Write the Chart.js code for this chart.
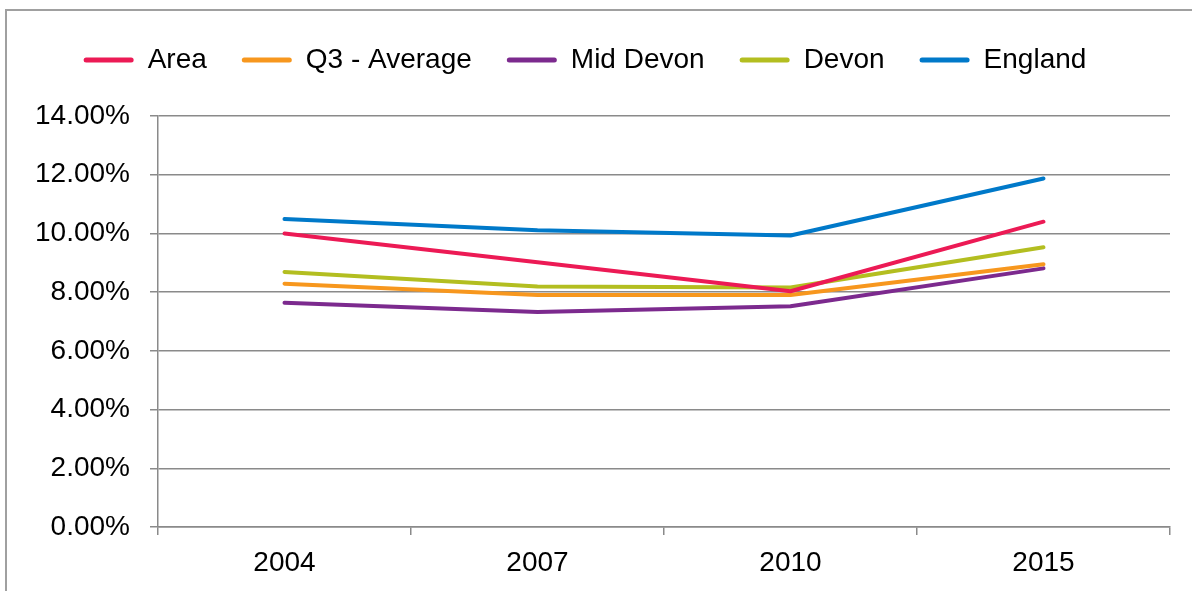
<!DOCTYPE html>
<html>
<head>
<meta charset="utf-8">
<script src="https://cdn.jsdelivr.net/npm/chart.js@4.4.1/dist/chart.umd.min.js"></script>
<style>
  html, body { margin: 0; padding: 0; background: #fff; overflow: hidden; }
  #wrap { position: absolute; left: 0; top: 0; width: 1192px; height: 591px; }
  #frame { position: absolute; left: 5px; top: 9px; width: 1300px; height: 700px; border: 2px solid #a0a0a0; box-sizing: border-box; }
  canvas { position: absolute; left: 0; top: 0; }
</style>
</head>
<body>
<div id="wrap">
  <div id="frame"></div>
  <canvas id="c" width="1192" height="591"></canvas>
</div>
<script>
const categories = ['2004', '2007', '2010', '2015'];
const seriesNames = ['Area', 'Q3 - Average', 'Mid Devon', 'Devon', 'England'];
const area      = [10.00, 9.02, 8.03, 10.40];
const q3Average = [8.29, 7.90, 7.90, 8.95];
const midDevon  = [7.64, 7.32, 7.52, 8.81];
const devon     = [8.69, 8.19, 8.16, 9.53];
const england   = [10.49, 10.11, 9.93, 11.87];
const yTicks = [0, 2, 4, 6, 8, 10, 12, 14];
const colors = ['#EC1A55', '#F7971E', '#7C2A8E', '#B3BE20', '#0079C9'];

const seriesValues = [area, q3Average, midDevon, devon, england];
const FONT = "'Liberation Sans', Arial, sans-serif";
const FS = 28;

const legendHeightPlugin = {
  id: 'legendHeight',
  beforeLayout(chart) {
    const lg = chart.legend;
    if (lg && !lg._patched) {
      const orig = lg.fit;
      lg.fit = function () { orig.call(this); this.height = 105; };
      lg._patched = true;
    }
  }
};

new Chart(document.getElementById('c'), {
  type: 'line',
  data: {
    labels: categories,
    datasets: seriesNames.map((name, i) => ({
      label: name,
      data: seriesValues[i],
      borderColor: colors[i],
      backgroundColor: colors[i],
      borderWidth: 4,
      borderCapStyle: 'round',
      borderJoinStyle: 'round',
      pointRadius: 0,
      pointHoverRadius: 0,
      tension: 0,
      fill: false
    }))
  },
  options: {
    responsive: false,
    animation: false,
    events: [],
    layout: { padding: { top: 11, left: 0, right: 22, bottom: 0 } },
    plugins: {
      tooltip: { enabled: false },
      legend: {
        position: 'top',
        align: 'center',
        labels: {
          boxWidth: 50,
          boxHeight: 5,
          padding: 35,
          color: '#000',
          font: { family: FONT, size: FS },
          useBorderRadius: true,
          borderRadius: 2.5,
          generateLabels(chart) {
            return chart.data.datasets.map((ds, i) => ({
              text: ds.label,
              fillStyle: ds.borderColor,
              strokeStyle: ds.borderColor,
              lineWidth: 0,
              hidden: false,
              datasetIndex: i,
              fontColor: '#000',
              borderRadius: 2.5
            }));
          }
        }
      }
    },
    scales: {
      x: {
        offset: true,
        grid: {
          display: true,
          offset: true,
          drawOnChartArea: false,
          drawTicks: true,
          tickLength: 8,
          color: '#8a8a8a',
          lineWidth: 1.5
        },
        border: { display: true, color: '#8a8a8a', width: 1.5 },
        ticks: {
          color: '#000',
          font: { family: FONT, size: FS },
          padding: 11,
          maxRotation: 0
        },
        afterFit(scale) { scale.height = 64; }
      },
      y: {
        min: 0,
        max: 14,
        afterBuildTicks(scale) { scale.ticks = yTicks.map(v => ({ value: v })); },
        grid: {
          color: '#8a8a8a',
          lineWidth: 1.5,
          drawTicks: true,
          tickLength: 8
        },
        border: { display: true, color: '#8a8a8a', width: 1.5 },
        ticks: {
          color: '#000',
          font: { family: FONT, size: FS },
          padding: 20,
          callback: v => Number(v).toFixed(2) + '%'
        },
        afterFit(scale) { scale.width = 158; }
      }
    }
  },
  plugins: [legendHeightPlugin]
});
</script>
</body>
</html>
